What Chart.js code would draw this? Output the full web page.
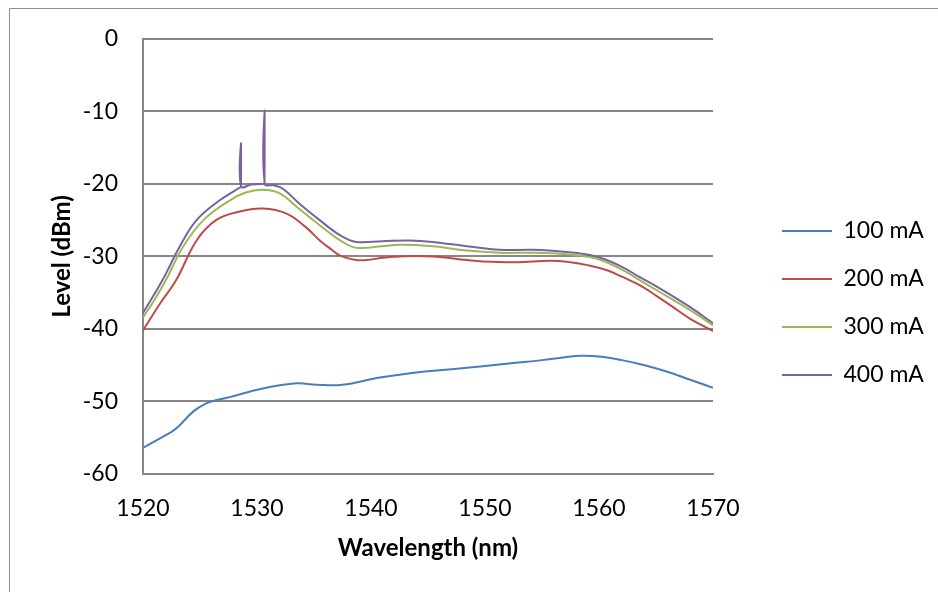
<!DOCTYPE html>
<html>
<head>
<meta charset="utf-8">
<script src="https://cdn.jsdelivr.net/npm/chart.js@4.4.0/dist/chart.umd.min.js"></script>
<style>
  html, body { margin: 0; background: #fff; }
</style>
</head>
<body>
<canvas id="spectrumChart" width="938" height="592"></canvas>
<script>
// Serier og farver
const seriesNames = ['100 mA', '200 mA', '300 mA', '400 mA'];
const seriesColors = ['#4A7EBB', '#BE4B48', '#98B954', '#7D60A0'];

// Akser
const xTicks = [1520, 1530, 1540, 1550, 1560, 1570];
const yTicks = [0, -10, -20, -30, -40, -50, -60];

// 100 mA
const wl100  = [1520, 1521.7, 1522.5, 1523.2, 1524.4, 1525.5, 1526.5, 1527.6, 1530.5, 1533.5, 1535.2, 1537.5, 1540.8, 1545.2, 1547.5, 1550, 1552.5, 1555, 1557, 1558.5, 1560, 1562, 1564, 1566, 1568, 1570];
const lvl100 = [-56.4, -54.9, -54.2, -53.3, -51.4, -50.3, -49.8, -49.4, -48.2, -47.5, -47.7, -47.7, -46.7, -45.8, -45.5, -45.1, -44.7, -44.3, -43.9, -43.7, -43.8, -44.3, -45.0, -45.9, -47.0, -48.1];

// 200 mA
const wl200  = [1520, 1521.5, 1522.9, 1524.7, 1526.4, 1528.5, 1530.5, 1532.6, 1534.3, 1535.5, 1536.4, 1537.3, 1538.7, 1539.6, 1541, 1542.5, 1545.4, 1548.4, 1549.8, 1552.8, 1555.7, 1557.5, 1559, 1560.7, 1562, 1563.6, 1565, 1566.5, 1568, 1570];
const lvl200 = [-40.2, -36.5, -33.3, -27.8, -25.0, -23.8, -23.4, -24.1, -26.0, -27.8, -28.9, -29.9, -30.5, -30.5, -30.2, -30.0, -30.0, -30.5, -30.7, -30.8, -30.6, -30.8, -31.2, -31.9, -32.8, -34.0, -35.4, -37.0, -38.6, -40.3];

// 300 mA
const wl300  = [1520, 1521, 1522, 1523.5, 1525.3, 1527.6, 1529, 1530.5, 1532, 1533.5, 1535.5, 1537.3, 1538.7, 1541, 1542.5, 1545.4, 1548.4, 1551.3, 1554.2, 1557.2, 1559.2, 1560.5, 1562.1, 1563.5, 1565.1, 1568, 1570];
const lvl300 = [-38.4, -36.0, -33.3, -28.7, -25.0, -22.3, -21.2, -20.8, -21.3, -23.2, -25.7, -27.8, -28.8, -28.6, -28.4, -28.6, -29.2, -29.5, -29.5, -29.7, -30.1, -30.7, -31.9, -33.2, -34.7, -37.4, -39.5];

// 400 mA (med to smalle toppe ved ca. 1528,6 og 1530,7 nm)
const wl400  = [1520, 1521.7, 1523.2, 1524.7, 1526.7, 1528.5, 1528.585, 1528.6, 1528.615, 1529.5, 1530.6, 1530.655, 1530.67, 1530.685, 1531.5, 1532.3, 1533.7, 1535.5, 1537.3, 1538.7, 1541, 1543.4, 1545.4, 1548.4, 1551.3, 1554.2, 1557.2, 1559.2, 1560.5, 1562.1, 1563.5, 1565.1, 1568, 1570];
const lvl400 = [-37.8, -33.3, -28.7, -25.0, -22.3, -20.5, -20.4, -14.4, -20.35, -20.1, -20.0, -20.0, -9.9, -20.0, -20.2, -20.7, -22.7, -25.0, -27.1, -28.0, -27.9, -27.8, -28.0, -28.6, -29.1, -29.1, -29.4, -29.8, -30.4, -31.5, -32.8, -34.2, -37.0, -39.2];

const wavelengths = [wl100, wl200, wl300, wl400];
const levels = [lvl100, lvl200, lvl300, lvl400];

const FONT = 'Lato, "Open Sans", sans-serif';

// Grå ramme i venstre/øverste kant (diagramområdets kant)
const framePlugin = {
  id: 'frame',
  beforeDraw(chart) {
    const { ctx, width, height } = chart;
    ctx.save();
    ctx.fillStyle = '#fff';
    ctx.fillRect(0, 0, width, height);
    ctx.strokeStyle = '#8c8c8c';
    ctx.lineWidth = 1;
    ctx.beginPath();
    ctx.moveTo(9.5, height);
    ctx.lineTo(9.5, 8.5);
    ctx.lineTo(width, 8.5);
    ctx.stroke();
    ctx.restore();
  }
};

// Fast bredde til legenden, og lidt luft mellem plot og legende
const legendPlacement = {
  id: 'legendPlacement',
  beforeInit(chart) {
    const legend = chart.legend;
    const fit = legend.fit;
    legend.fit = function () {
      fit.call(this);
      this.width = 225;
    };
  },
  afterLayout(chart) {
    chart.legend.left += 44;
    chart.legend.right += 44;
  }
};

const datasets = seriesNames.map((name, i) => ({
  label: name,
  data: wavelengths[i].map((x, j) => ({ x, y: levels[i][j] })),
  borderColor: seriesColors[i],
  backgroundColor: seriesColors[i],
  borderWidth: 2,
  pointRadius: 0,
  tension: 0.4,
  fill: false
}));

new Chart(document.getElementById('spectrumChart'), {
  type: 'line',
  data: { datasets },
  plugins: [framePlugin, legendPlacement],
  options: {
    responsive: false,
    animation: false,
    devicePixelRatio: 1,
    layout: { padding: { top: 38, right: 0, bottom: 24, left: 0 } },
    plugins: {
      tooltip: { enabled: false },
      legend: {
        position: 'right',
        labels: {
          usePointStyle: true,
          pointStyle: 'line',
          pointStyleWidth: 50,
          padding: 25,
          color: '#000',
          font: { family: FONT, size: 23 }
        }
      }
    },
    scales: {
      x: {
        type: 'linear',
        min: xTicks[0],
        max: xTicks[xTicks.length - 1],
        afterFit(scale) { scale.height = 94; },
        afterBuildTicks(scale) { scale.ticks = xTicks.map(v => ({ value: v })); },
        grid: { display: false, drawTicks: false },
        border: { display: true, color: '#878787', width: 2 },
        ticks: {
          padding: 21,
          color: '#000',
          font: { family: FONT, size: 23 },
          callback: v => String(v)
        },
        title: {
          display: true,
          text: 'Wavelength (nm)',
          color: '#000',
          font: { family: FONT, size: 24, weight: 'bold' },
          padding: { top: 0, bottom: 5.6 }
        }
      },
      y: {
        min: yTicks[yTicks.length - 1],
        max: yTicks[0],
        afterFit(scale) { scale.width = 143; },
        afterBuildTicks(scale) { scale.ticks = yTicks.map(v => ({ value: v })); },
        grid: { color: '#878787', lineWidth: 2, drawTicks: false },
        border: { display: true, color: '#878787', width: 2 },
        ticks: {
          padding: 25,
          color: '#000',
          font: { family: FONT, size: 23 },
          callback: v => String(v)
        },
        title: {
          display: true,
          text: 'Level (dBm)',
          color: '#000',
          font: { family: FONT, size: 24, weight: 'bold' },
          padding: { top: 47.6, bottom: 0 }
        }
      }
    }
  }
});
</script>
</body>
</html>
